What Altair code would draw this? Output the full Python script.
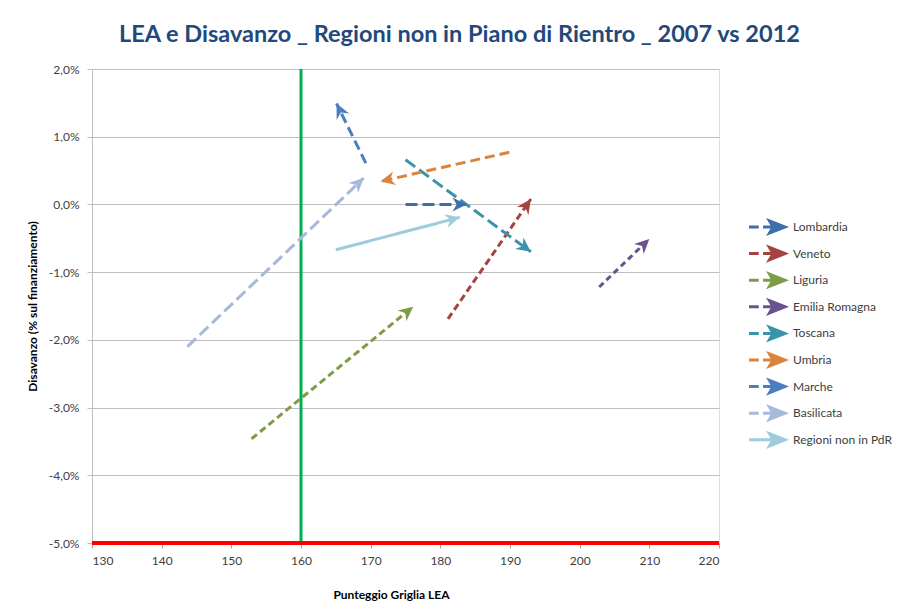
import math
import altair as alt
import pandas as pd

series = ["Lombardia", "Veneto", "Liguria", "Emilia Romagna", "Toscana",
          "Umbria", "Marche", "Basilicata", "Regioni non in PdR"]
lea_2007 = [175.0, 181.1, 152.9, 202.8, 175.0, 189.9, 169.3, 143.7, 165.0]
lea_2012 = [183.8, 193.0, 176.1, 210.0, 193.0, 171.4, 165.1, 169.0, 182.8]
dis_2007 = [0.0, -1.69, -3.46, -1.22, 0.66, 0.77, 0.61, -2.10, -0.67]
dis_2012 = [0.0, 0.08, -1.51, -0.51, -0.70, 0.34, 1.49, 0.39, -0.19]
colors = ["#3F6FAA", "#A5433F", "#7E9C46", "#6A5290", "#3A93A8",
          "#DA843C", "#4A7EC0", "#A7B9DA", "#9FCCDC"]
dashes = [[12, 5], [7, 4], [7, 4], [6, 4], [12, 5], [10, 5], [10, 5], [12, 5], [1, 0]]

x_ticks = list(range(130, 221, 10))
y_ticks = [2, 1, 0, -1, -2, -3, -4, -5]

W, H = 627, 474
X_DOM = [130, 220]
Y_DOM = [-5, 2]
sx = W / (X_DOM[1] - X_DOM[0])
sy = H / (Y_DOM[1] - Y_DOM[0])

FONT = "Lato"
TXT = "#404040"

rows = []
heads = []
for i, s in enumerate(series):
    rows.append({"serie": s, "ord": 0, "lea": lea_2007[i], "dis": dis_2007[i], "dash": dashes[i]})
    rows.append({"serie": s, "ord": 1, "lea": lea_2012[i], "dis": dis_2012[i], "dash": dashes[i]})
    dx = (lea_2012[i] - lea_2007[i]) * sx
    dy = (dis_2012[i] - dis_2007[i]) * sy
    ang = math.degrees(math.atan2(dx, dy)) % 360
    heads.append({"serie": s, "lea": lea_2012[i], "dis": dis_2012[i], "ang": ang})
lines_df = pd.DataFrame(rows)
heads_df = pd.DataFrame(heads)

HEAD = "M0,0L0.7,1.45L0,1.0L-0.7,1.45Z"
LEG_DASHED = "M-2.5,0L-1.15,0M-0.55,0L0.75,0M0.35,-0.85L2.5,0L0.35,0.85L0.85,0Z"
LEG_SOLID = "M-2.5,0L0.85,0M0.35,-0.85L2.5,0L0.35,0.85L0.85,0Z"

color_scale = alt.Scale(domain=series, range=colors)
x_enc = alt.X("lea:Q", scale=alt.Scale(domain=X_DOM, nice=False, zero=False),
              axis=alt.Axis(values=x_ticks, grid=False, domain=False, tickSize=5,
                            tickColor="#A6A6A6", labelPadding=7, labelFont=FONT,
                            labelFontSize=12, labelColor=TXT,
                            title="Punteggio Griglia LEA", titleFont=FONT,
                            titleFontSize=12, titleFontWeight="bold", titleColor="#000000",
                            titleX=299, titleY=51, titleBaseline="middle"))
y_enc = alt.Y("dis:Q", scale=alt.Scale(domain=Y_DOM, nice=False, zero=False),
              axis=alt.Axis(values=y_ticks, grid=True, gridColor="#BFBFBF", gridWidth=1,
                            domain=True, domainColor="#BFBFBF", tickSize=5,
                            tickColor="#BFBFBF", labelPadding=8, labelFont=FONT,
                            labelFontSize=12, labelColor=TXT,
                            labelExpr="replace(replace(format(datum.value, '.1f'), '.', ','), '\u2212', '-') + '%'",
                            title="Disavanzo (% sul finanziamento)", titleFont=FONT,
                            titleFontSize=12, titleFontWeight="bold", titleColor="#000000",
                            titleAngle=270, titleX=-60, titleY=H / 2, titleBaseline="middle"))

legend = alt.Legend(
    orient="none", legendX=666, legendY=149, title=None,
    symbolType={"expr": "datum.value === 'Regioni non in PdR' ? '%s' : '%s'" % (LEG_SOLID, LEG_DASHED)},
    symbolFillColor={"expr": "scale('color', datum.value)"},
    symbolSize=207, symbolStrokeWidth=3,
    labelOffset=17, rowPadding=0.6, labelFont=FONT, labelFontSize=12,
    labelColor=TXT, symbolLimit=0,
)

lines = alt.Chart(lines_df).mark_line(strokeWidth=3, strokeCap="butt").encode(
    x=x_enc, y=y_enc,
    color=alt.Color("serie:N", scale=color_scale, legend=legend),
    strokeDash=alt.StrokeDash("dash", scale=None, legend=None),
    order="ord:O",
)

arrow_heads = alt.Chart(heads_df).mark_point(shape=HEAD, filled=True, size=400,
                                             opacity=1, strokeWidth=0).encode(
    x="lea:Q", y="dis:Q",
    color=alt.Color("serie:N", scale=color_scale, legend=None),
    angle=alt.Angle("ang:Q", scale=None),
)

green = alt.Chart(pd.DataFrame({"lea": [160]})).mark_rule(color="#00B050", strokeWidth=3).encode(x="lea:Q")
red = alt.Chart(pd.DataFrame({"dis": [-5]})).mark_rule(color="#FF0000", strokeWidth=4).encode(y="dis:Q")

chart = alt.layer(green, lines, arrow_heads, red).properties(
    width=W, height=H,
    autosize=alt.AutoSizeParams(type="none"),
    padding={"left": 84, "top": 61, "right": 176, "bottom": 60},
    title=alt.TitleParams(
        "LEA e Disavanzo _ Regioni non in Piano di Rientro _ 2007 vs 2012",
        font=FONT, fontSize=23.5, fontWeight="bold", color="#1F497D",
        anchor="middle", frame="group", dx=54, dy=26, offset=24, baseline="alphabetic"),
).configure_view(stroke=None).configure(background="white")

chart.save("out.html", embed_options={"renderer": "svg", "actions": False})
